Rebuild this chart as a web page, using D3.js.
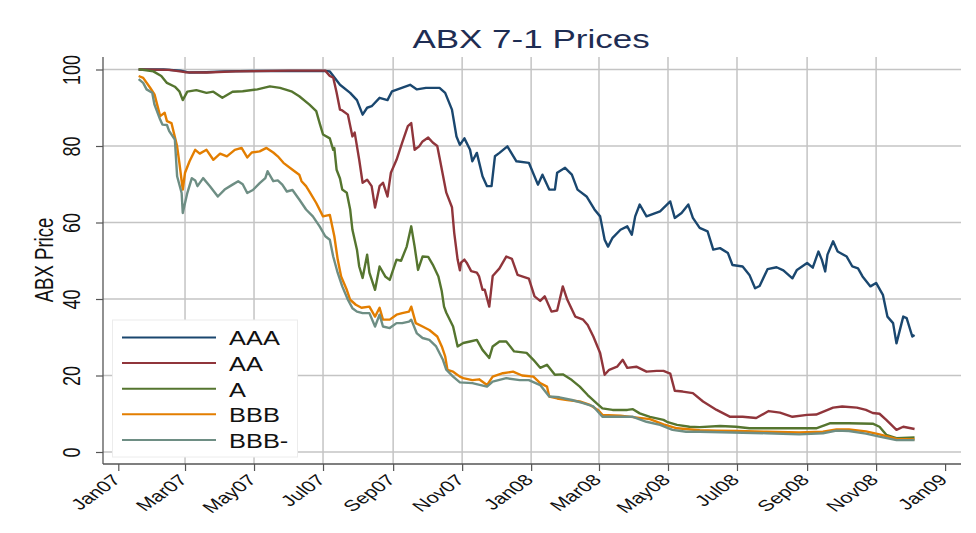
<!DOCTYPE html>
<html>
<head>
<meta charset="utf-8">
<script src="https://cdn.jsdelivr.net/npm/d3@7"></script>
<style>
  body { margin: 0; background: #fff; }
  svg { display: block; font-family: "Liberation Sans", Arial, sans-serif; }
</style>
</head>
<body>
<div id="chart"></div>
<script>
(function() {

  // ABX 7-1 tranche prices
  var seriesNames = ["AAA", "AA", "A", "BBB", "BBB-"];
  var seriesColors = ["#1a476f", "#90353b", "#55752f", "#e37e00", "#6e8e84"];
  var yTicks = [0, 20, 40, 60, 80, 100];
  var xTickDates = ["2007-01-01", "2007-03-01", "2007-05-01", "2007-07-01", "2007-09-01", "2007-11-01",
    "2008-01-01", "2008-03-01", "2008-05-01", "2008-07-01", "2008-09-01", "2008-11-01", "2009-01-01"];

  var aaa = [["2007-01-19",100],["2007-02-10",100],["2007-02-25",99.7],["2007-03-05",99.2],["2007-03-20",99.3],
    ["2007-04-05",99.5],["2007-05-01",99.6],["2007-06-01",99.6],["2007-07-03",99.6],["2007-07-07",99.5],
    ["2007-07-16",96],["2007-07-25",93.9],["2007-07-31",92],["2007-08-05",88.2],["2007-08-09",90],
    ["2007-08-13",90.4],["2007-08-20",92.6],["2007-08-27",92],["2007-08-31",94.3],["2007-09-16",96],
    ["2007-09-22",94.8],["2007-09-30",95.2],["2007-10-12",95.2],["2007-10-17",93.9],["2007-10-23",89.5],
    ["2007-10-27",82.5],["2007-10-30",80.3],["2007-11-03",82],["2007-11-08",79],["2007-11-10",76],
    ["2007-11-14",78.2],["2007-11-19",72.1],["2007-11-23",69.5],["2007-11-27",69.5],["2007-11-30",77.3],
    ["2007-12-04",78.2],["2007-12-11",79.9],["2007-12-19",76],["2007-12-30",75.6],["2008-01-07",69.9],
    ["2008-01-11",72.5],["2008-01-17",68.6],["2008-01-22",68.6],["2008-01-24",73],["2008-01-31",74.3],
    ["2008-02-06",72.5],["2008-02-11",68.6],["2008-02-19",66.8],["2008-02-26",63.4],["2008-03-02",61.6],
    ["2008-03-06",55.5],["2008-03-09",53.7],["2008-03-13",56],["2008-03-20",58.1],["2008-03-26",59],
    ["2008-03-30",56.8],["2008-04-02",61.6],["2008-04-06",64.7],["2008-04-12",61.6],["2008-04-24",62.9],
    ["2008-05-03",65.5],["2008-05-07",61.2],["2008-05-13",62.5],["2008-05-19",64.7],["2008-05-23",61.2],
    ["2008-05-29",58.6],["2008-06-05",57.7],["2008-06-10",52.9],["2008-06-16",53.3],["2008-06-23",52],
    ["2008-06-27",48.9],["2008-07-06",48.5],["2008-07-12",46.3],["2008-07-17",42.8],["2008-07-21",43.4],
    ["2008-07-28",47.8],["2008-08-05",48.3],["2008-08-11",47.5],["2008-08-19",45.4],["2008-08-23",47.6],
    ["2008-09-01",49.4],["2008-09-06",48.2],["2008-09-11",52.4],["2008-09-14",50.3],["2008-09-17",47.2],
    ["2008-09-19",51.6],["2008-09-24",55.1],["2008-09-28",52.4],["2008-10-06",51.1],["2008-10-11",48.5],
    ["2008-10-16",48],["2008-10-20",45.9],["2008-10-27",43.3],["2008-11-01",44.2],["2008-11-07",41.1],
    ["2008-11-11",35.4],["2008-11-16",33.7],["2008-11-19",28.4],["2008-11-25",35.4],["2008-11-28",35],
    ["2008-12-03",30.2],["2008-12-05",30.6]];

  var aa = [["2007-01-19",100],["2007-02-15",99.9],["2007-03-01",99.3],["2007-03-20",99.2],["2007-04-15",99.5],
    ["2007-06-01",99.7],["2007-07-03",99.7],["2007-07-07",98.3],["2007-07-10",97.9],["2007-07-13",94],
    ["2007-07-16",89.5],["2007-07-18",89.3],["2007-07-23",88.2],["2007-07-27",82.5],["2007-07-29",83.5],
    ["2007-08-02",76.4],["2007-08-05",70.4],["2007-08-09",71.2],["2007-08-13",69.5],["2007-08-16",63.9],
    ["2007-08-20",69.5],["2007-08-23",70.4],["2007-08-27",66.8],["2007-08-30",73],["2007-09-04",76.4],
    ["2007-09-09",80.9],["2007-09-14",85.2],["2007-09-17",86],["2007-09-20",79],["2007-09-24",79.9],
    ["2007-09-27",81.2],["2007-10-02",82.2],["2007-10-06",80.9],["2007-10-10",80],["2007-10-12",77],
    ["2007-10-18",67.8],["2007-10-23",64],["2007-10-25",57.3],["2007-10-28",50.3],["2007-10-30",47.5],
    ["2007-10-31",49.5],["2007-11-03",50.3],["2007-11-05",49.5],["2007-11-09",47.3],["2007-11-14",46.9],
    ["2007-11-16",45.9],["2007-11-19",42.4],["2007-11-21",42.4],["2007-11-25",38],["2007-11-28",46],
    ["2007-12-04",48],["2007-12-10",51.1],["2007-12-15",50.5],["2007-12-20",46.3],["2007-12-30",45.3],
    ["2008-01-04",40.7],["2008-01-09",39.5],["2008-01-13",40.7],["2008-01-19",36.7],["2008-01-24",37],
    ["2008-01-29",43.3],["2008-02-02",39.8],["2008-02-09",35.4],["2008-02-16",34.6],["2008-02-20",33.2],
    ["2008-02-25",30.2],["2008-03-02",25.9],["2008-03-06",20.2],["2008-03-10",21.5],["2008-03-17",22.3],
    ["2008-03-22",24.1],["2008-03-26",22],["2008-04-03",22.3],["2008-04-12",21],["2008-04-21",21.2],
    ["2008-04-27",21.2],["2008-05-03",20.5],["2008-05-07",16],["2008-05-14",15.8],["2008-05-23",15.4],
    ["2008-06-01",13.2],["2008-06-13",11],["2008-06-25",9.2],["2008-07-06",9.2],["2008-07-18",8.9],
    ["2008-07-29",10.7],["2008-08-08",10.3],["2008-08-19",9.2],["2008-09-01",9.7],["2008-09-09",9.8],
    ["2008-09-24",11.6],["2008-10-02",11.9],["2008-10-15",11.6],["2008-10-23",11],["2008-10-29",10.2],
    ["2008-11-04",10],["2008-11-10",8.4],["2008-11-19",5.8],["2008-11-25",6.6],["2008-12-05",6]];

  var a = [["2007-01-19",100],["2007-01-21",100],["2007-02-01",99.5],["2007-02-08",98.3],["2007-02-13",96.5],
    ["2007-02-20",95.5],["2007-02-24",94.3],["2007-02-27",92],["2007-03-03",94.2],["2007-03-11",94.6],
    ["2007-03-20",93.9],["2007-03-26",94.2],["2007-04-03",92.6],["2007-04-12",94.2],["2007-04-21",94.3],
    ["2007-05-04",94.8],["2007-05-15",95.6],["2007-05-24",95.2],["2007-06-03",94.3],["2007-06-10",93],
    ["2007-06-19",90.8],["2007-06-25",89.1],["2007-06-28",86],["2007-07-01",83],["2007-07-07",82],
    ["2007-07-10",79],["2007-07-11",79.5],["2007-07-13",73.8],["2007-07-16",71.5],["2007-07-18",68.6],
    ["2007-07-22",67.8],["2007-07-25",63.4],["2007-07-27",58.1],["2007-07-31",52.9],["2007-08-02",48.5],
    ["2007-08-05",45.5],["2007-08-09",51.6],["2007-08-11",46.9],["2007-08-16",42.4],["2007-08-20",48.5],
    ["2007-08-25",45.9],["2007-08-29",45],["2007-09-04",50.3],["2007-09-08",50],["2007-09-13",53.7],
    ["2007-09-17",59],["2007-09-20",53.7],["2007-09-23",47.6],["2007-09-27",51.1],["2007-10-02",51],
    ["2007-10-06",49],["2007-10-11",45.9],["2007-10-14",42],["2007-10-16",38],["2007-10-18",36.4],
    ["2007-10-24",32.8],["2007-10-28",27.6],["2007-11-02",28.5],["2007-11-08",28.9],["2007-11-14",29.3],
    ["2007-11-19",26.7],["2007-11-25",24.6],["2007-11-28",27.6],["2007-12-04",28.9],["2007-12-10",28.9],
    ["2007-12-17",26.3],["2007-12-28",25.9],["2008-01-03",24.1],["2008-01-09",22],["2008-01-15",22.8],
    ["2008-01-22",20.2],["2008-01-29",20.3],["2008-02-06",18.8],["2008-02-13",17.1],["2008-02-20",14.9],
    ["2008-02-28",12.7],["2008-03-04",11.4],["2008-03-13",11],["2008-03-26",11],["2008-03-31",11.2],
    ["2008-04-06",10.1],["2008-04-15",9.2],["2008-04-27",8.4],["2008-04-30",7.9],["2008-05-09",7.1],
    ["2008-05-20",6.6],["2008-05-29",6.5],["2008-06-16",6.8],["2008-06-30",6.6],["2008-07-12",6.2],
    ["2008-08-10",6.2],["2008-09-09",6.2],["2008-09-21",7.5],["2008-10-08",7.5],["2008-10-29",7.4],
    ["2008-11-04",6.6],["2008-11-10",4.5],["2008-11-19",3.6],["2008-12-05",3.8]];

  var bbb = [["2007-01-19",98.3],["2007-01-23",97.8],["2007-01-29",95.3],["2007-02-02",93.5],["2007-02-07",87.8],
    ["2007-02-11",88.7],["2007-02-13",86.5],["2007-02-17",86],["2007-02-22",79.9],["2007-02-24",75.6],
    ["2007-02-27",68.6],["2007-03-01",73],["2007-03-05",76],["2007-03-10",79],["2007-03-14",78],
    ["2007-03-20",79],["2007-03-26",76.4],["2007-04-01",78],["2007-04-07",77.3],["2007-04-14",79],
    ["2007-04-20",79.5],["2007-04-25",77],["2007-04-29",78.3],["2007-05-06",78.6],["2007-05-12",79.5],
    ["2007-05-18",78.3],["2007-05-22",77.3],["2007-05-27",75.6],["2007-06-04",73.8],["2007-06-10",72.5],
    ["2007-06-12",70.8],["2007-06-16",69.5],["2007-06-19",68.1],["2007-06-25",65.1],["2007-07-01",61.6],
    ["2007-07-07",62],["2007-07-11",56.4],["2007-07-14",50.3],["2007-07-17",45.9],["2007-07-22",42.4],
    ["2007-07-25",39.8],["2007-07-30",38.5],["2007-08-04",37.7],["2007-08-11",38],["2007-08-16",35.4],
    ["2007-08-20",37.7],["2007-08-23",34.6],["2007-08-29",34.6],["2007-09-04",35.9],["2007-09-09",36.3],
    ["2007-09-15",36.7],["2007-09-17",38],["2007-09-21",33.7],["2007-09-27",32.8],["2007-10-03",31.9],
    ["2007-10-10",30.2],["2007-10-14",27.6],["2007-10-17",25],["2007-10-19",21.5],["2007-10-24",21],
    ["2007-10-30",19.7],["2007-11-02",19.3],["2007-11-10",18.8],["2007-11-16",19],["2007-11-23",17.5],
    ["2007-11-28",19.7],["2007-12-07",20.6],["2007-12-16",21],["2007-12-24",20],["2008-01-03",19.7],
    ["2008-01-09",18],["2008-01-15",17.1],["2008-01-17",14.5],["2008-01-24",14],["2008-02-02",13.6],
    ["2008-02-13",13.2],["2008-02-22",12.3],["2008-02-29",11],["2008-03-04",9.7],["2008-03-20",9.5],
    ["2008-04-15",8.6],["2008-04-27",7.2],["2008-05-09",6.2],["2008-05-29",5.7],["2008-06-13",5.6],
    ["2008-07-01",5.5],["2008-07-27",5.3],["2008-08-25",5.1],["2008-09-15",5.3],["2008-09-27",5.9],
    ["2008-10-08",5.9],["2008-10-23",5.4],["2008-11-04",4.6],["2008-11-19",3.4],["2008-12-05",3.3]];

  var bbbMinus = [["2007-01-19",97.5],["2007-01-23",96.5],["2007-01-26",94.8],["2007-01-31",93.9],["2007-02-02",90.8],
    ["2007-02-07",86.9],["2007-02-09",85.6],["2007-02-13",85.5],["2007-02-15",83.9],["2007-02-20",81.7],
    ["2007-02-22",72.1],["2007-02-26",67.7],["2007-02-27",62.5],["2007-03-03",67.7],["2007-03-07",71.6],
    ["2007-03-10",71],["2007-03-12",69.5],["2007-03-17",71.6],["2007-03-23",69.5],["2007-03-30",66.8],
    ["2007-04-05",68.6],["2007-04-12",69.9],["2007-04-17",70.8],["2007-04-21",70],["2007-04-25",67.7],
    ["2007-04-30",68.5],["2007-05-06",70.3],["2007-05-11",71.6],["2007-05-13",73.4],["2007-05-18",70.8],
    ["2007-05-22",71],["2007-05-26",69.9],["2007-05-30",68.1],["2007-06-04",68.5],["2007-06-10",66],
    ["2007-06-16",63.4],["2007-06-22",61.6],["2007-06-28",59],["2007-07-03",56.4],["2007-07-07",55.5],
    ["2007-07-10",51.1],["2007-07-14",46.8],["2007-07-18",43.3],["2007-07-23",39.8],["2007-07-27",37.6],
    ["2007-07-31",36.7],["2007-08-05",36.3],["2007-08-11",36.3],["2007-08-16",32.8],["2007-08-20",35.9],
    ["2007-08-23",32.8],["2007-08-29",32.4],["2007-09-04",33.7],["2007-09-09",33.7],["2007-09-15",34.1],
    ["2007-09-17",34.6],["2007-09-22",31],["2007-09-27",29.8],["2007-10-03",29.3],["2007-10-09",27.6],
    ["2007-10-15",24.1],["2007-10-18",21.5],["2007-10-24",19.7],["2007-10-30",18.2],["2007-11-10",18],
    ["2007-11-23",17.1],["2007-11-28",18.4],["2007-12-10",19.3],["2007-12-22",18.8],["2007-12-30",18.8],
    ["2008-01-09",17.5],["2008-01-17",14.5],["2008-01-26",14.3],["2008-02-06",13.6],["2008-02-16",12.8],
    ["2008-02-25",11.9],["2008-03-04",9.2],["2008-03-19",9.2],["2008-03-31",9.2],["2008-04-12",7.9],
    ["2008-04-24",7.1],["2008-05-05",5.8],["2008-05-17",5.3],["2008-05-29",5.3],["2008-06-27",5.1],
    ["2008-07-27",4.9],["2008-08-25",4.6],["2008-09-15",4.9],["2008-09-27",5.6],["2008-10-08",5.5],
    ["2008-10-23",4.8],["2008-11-04",4],["2008-11-19",3.1],["2008-12-05",3.1]];

  var seriesData = [aaa, aa, a, bbb, bbbMinus];

  var width = 976, height = 533;
  var plot = { left: 103, right: 961, top: 57, bottom: 464 };
  var parseDate = d3.timeParse("%Y-%m-%d");
  var gridColor = "#c4c4c4", axisColor = "#555";

  var svg = d3.select("#chart").append("svg")
    .attr("width", width)
    .attr("height", height);

  var x = d3.scaleTime()
    .domain([parseDate("2007-01-01"), parseDate("2009-01-01")])
    .range([118.3, 945.1]);
  var y = d3.scaleLinear()
    .domain([0, 100])
    .range([452, 69.5]);

  var xTicks = xTickDates.map(parseDate);

  // grid lines
  svg.append("g").selectAll("line")
    .data(yTicks)
    .enter().append("line")
    .attr("x1", plot.left).attr("x2", plot.right)
    .attr("y1", function(d) { return y(d); })
    .attr("y2", function(d) { return y(d); })
    .attr("stroke", gridColor)
    .attr("stroke-width", 1.5);
  svg.append("g").selectAll("line")
    .data(xTicks.slice(1, -1))
    .enter().append("line")
    .attr("x1", function(d) { return x(d); })
    .attr("x2", function(d) { return x(d); })
    .attr("y1", plot.top).attr("y2", plot.bottom)
    .attr("stroke", gridColor)
    .attr("stroke-width", 1.5);

  // axes
  var yAxis = svg.append("g")
    .attr("transform", "translate(" + plot.left + ",0)")
    .call(d3.axisLeft(y).tickValues(yTicks).tickSize(7).tickSizeOuter(0));
  yAxis.select(".domain").remove();
  yAxis.selectAll(".tick line").attr("stroke", axisColor).attr("stroke-width", 1.2);
  yAxis.selectAll(".tick text")
    .attr("x", null).attr("dy", null)
    .attr("transform", "translate(-23,0) scale(1.3,1) rotate(-90)")
    .attr("text-anchor", "middle")
    .attr("fill", "#111")
    .style("font-size", "18px")
    .style("font-family", "Liberation Sans, Arial, sans-serif");

  var xAxis = svg.append("g")
    .attr("transform", "translate(0," + plot.bottom + ")")
    .call(d3.axisBottom(x).tickValues(xTicks).tickSize(7).tickSizeOuter(0)
      .tickFormat(d3.timeFormat("%b%y")));
  xAxis.select(".domain").remove();
  xAxis.selectAll(".tick line").attr("stroke", axisColor).attr("stroke-width", 1.2);
  xAxis.selectAll(".tick text")
    .attr("y", null).attr("dy", null)
    .attr("transform", "translate(3,17) scale(1.4,1) rotate(-45)")
    .attr("text-anchor", "end")
    .attr("fill", "#111")
    .style("font-size", "15.5px")
    .style("font-family", "Liberation Sans, Arial, sans-serif");

  svg.append("line")
    .attr("x1", plot.left).attr("x2", plot.left)
    .attr("y1", plot.top).attr("y2", plot.bottom)
    .attr("stroke", axisColor).attr("stroke-width", 1.3);
  svg.append("line")
    .attr("x1", plot.left).attr("x2", plot.right)
    .attr("y1", plot.bottom).attr("y2", plot.bottom)
    .attr("stroke", axisColor).attr("stroke-width", 1.3);

  // price lines
  var line = d3.line()
    .x(function(d) { return x(parseDate(d[0])); })
    .y(function(d) { return y(d[1]); });
  svg.append("g").selectAll("path")
    .data(seriesData)
    .enter().append("path")
    .attr("d", line)
    .attr("fill", "none")
    .attr("stroke", function(d, i) { return seriesColors[i]; })
    .attr("stroke-width", 2.4)
    .attr("stroke-linejoin", "round");

  // titles
  svg.append("text")
    .attr("transform", "translate(531,48) scale(1.4,1)")
    .attr("text-anchor", "middle")
    .attr("fill", "#1e2d53")
    .style("font-size", "25px")
    .text("ABX 7-1 Prices");
  svg.append("text")
    .attr("transform", "translate(53,260) scale(1.34,1) rotate(-90)")
    .attr("text-anchor", "middle")
    .attr("fill", "#111")
    .style("font-size", "18.6px")
    .text("ABX Price");

  // legend
  var legend = svg.append("g");
  legend.append("rect")
    .attr("x", 112.5).attr("y", 320)
    .attr("width", 185).attr("height", 137)
    .attr("fill", "#fff")
    .attr("stroke", "#ececec");
  var item = legend.selectAll("g.item")
    .data(seriesNames)
    .enter().append("g")
    .attr("transform", function(d, i) { return "translate(0," + (337.5 + i * 25.6) + ")"; });
  item.append("line")
    .attr("x1", 122).attr("x2", 216)
    .attr("stroke", function(d, i) { return seriesColors[i]; })
    .attr("stroke-width", 2);
  item.append("text")
    .attr("transform", "translate(229,7.8) scale(1.27,1)")
    .attr("fill", "#111")
    .style("font-size", "20px")
    .text(function(d) { return d; });

})();
</script>
</body>
</html>
